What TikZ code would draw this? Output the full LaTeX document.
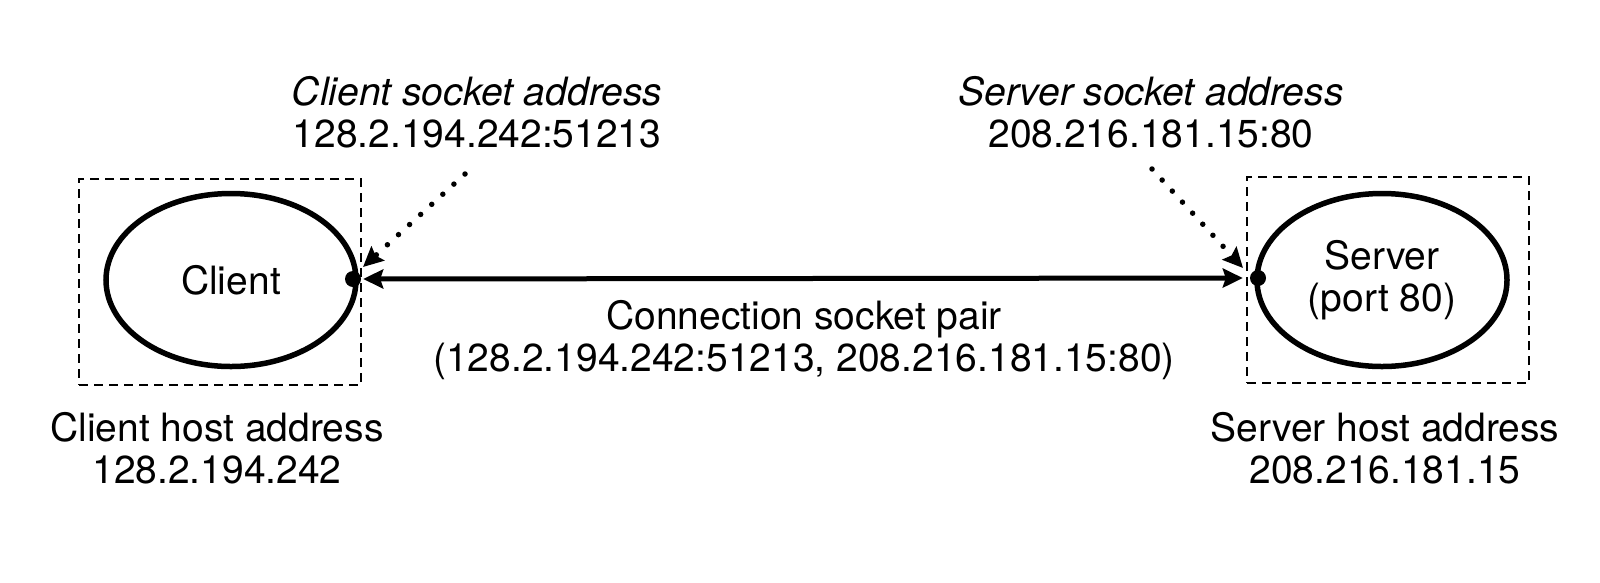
\documentclass[tikz,border=0pt]{standalone}
\usepackage{fontspec}
\setmainfont{TeX Gyre Heros}
\usetikzlibrary{shapes.geometric,arrows.meta}
\begin{document}
\begin{tikzpicture}[x=1pt,y=-1pt,
  txt/.style={font=\fontsize{39}{42}\selectfont, inner sep=0pt, align=center},
  hostbox/.style={draw, line width=2.2pt, dash pattern=on 9pt off 6pt, minimum width=282pt, minimum height=206pt, inner sep=0pt},
  proc/.style={draw, ellipse, line width=5.5pt, minimum width=250pt, minimum height=173pt, inner sep=0pt, txt},
  conn/.style={line width=5pt, {Stealth[length=20pt,width=19pt,inset=3pt]}-{Stealth[length=20pt,width=19pt,inset=3pt]}},
  pointer/.style={line width=5.5pt, line cap=round, dash pattern=on 0pt off 15pt, -{Stealth[length=20pt,width=19pt,inset=3pt,line cap=butt]}},
  dotmark/.style={fill, circle, inner sep=0pt, minimum size=16pt}]
\useasboundingbox (0,0) rectangle (1600,582);
\node[hostbox] (cbox) at (220,282) {};
\node[hostbox] (sbox) at (1388,280) {};
\node[proc] (client) at (231,280) {Client};
\node[proc] (server) at (1382,280) {Server\\(port 80)};
\node[dotmark] (cdot) at (353,279) {};
\node[dotmark] (sdot) at (1258,278) {};
\draw[conn, shorten <=2pt, shorten >=7pt] (cdot) -- (sdot);
\node[txt] (csa) at (477,112) {\itshape Client socket address\\128.2.194.242:51213};
\node[txt] (ssa) at (1151,112) {\itshape Server socket address\\208.216.181.15:80};
\coordinate (csastart) at (465,174);
\coordinate (csaend) at (363,267);
\coordinate (ssastart) at (1152,169);
\coordinate (ssaend) at (1243,268);
\draw[pointer] (csastart) -- (csaend);
\draw[pointer] (ssastart) -- (ssaend);
\node[txt] (pair) at (804,340) {Connection socket pair\\(128.2.194.242:51213, 208.216.181.15:80)};
\node[txt] (chost) at (217,448) {Client host address\\128.2.194.242};
\node[txt] (shost) at (1385,448) {Server host address\\208.216.181.15};
\end{tikzpicture}
\end{document}
